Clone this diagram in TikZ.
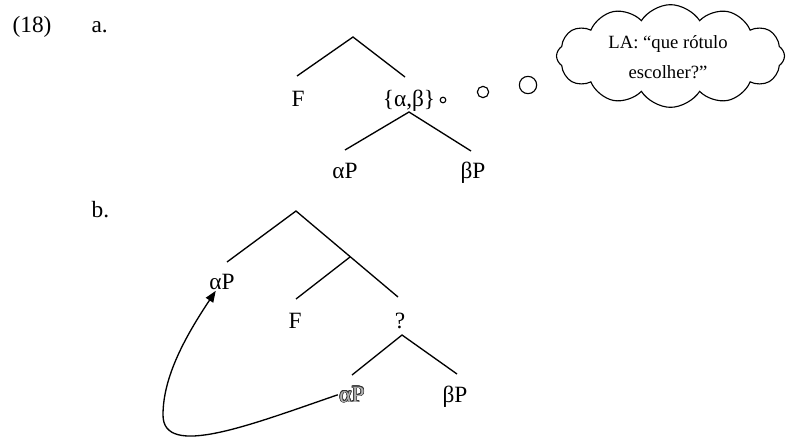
\documentclass[tikz,border=0pt]{standalone}
\usepackage{fontspec}
\setmainfont{Liberation Serif}
\usepackage{contour}
\usetikzlibrary{shapes.symbols,arrows.meta,calc}
\contourlength{0.45pt}
\contournumber{16}
\begin{document}
\begin{tikzpicture}[x=0.75pt,y=0.75pt,
  lbl/.style={anchor=base,inner sep=1pt,font=\fontsize{17.5}{20}\selectfont},
  branch/.style={line width=1pt},
  bubble/.style={draw,circle,inner sep=0pt,line width=0.85pt},
  movearrow/.style={line width=1pt,-{Triangle[length=8.5pt,width=6.5pt]}}]
\useasboundingbox (0,0) rectangle (787,437);

% labels
\node[lbl,anchor=base west] (lab18) at (11,405) {(18)};
\node[lbl,anchor=base west] (laba) at (90,405) {a.};
\node[lbl,anchor=base west] (labb) at (90,220) {b.};

% tree a
\coordinate (ra) at (353,400);
\coordinate (raL) at (297,361);
\coordinate (raR) at (405,360);
\coordinate (sa) at (409,325);
\coordinate (saL) at (345,287);
\coordinate (saR) at (471,286);
\node[lbl] (Fa) at (298,331) {F};
\node[lbl] (ab) at (409,331) {\{α,β\}};
\node[lbl] (aPa) at (345,259) {αP};
\node[lbl] (bPa) at (473,259) {βP};
\draw[branch] (raL) -- (ra) -- (raR);
\draw[branch] (saL) -- (sa) -- (saR);

% thought bubbles
\node[bubble,minimum size=4.2pt] (c1) at (443,337) {};
\node[bubble,minimum size=8.5pt] (c2) at (483,345) {};
\node[bubble,minimum size=13pt] (c3) at (528,352) {};
\node[cloud,draw,line width=0.85pt,cloud puffs=12,cloud puff arc=115,
      cloud ignores aspect,minimum width=171pt,minimum height=77pt,inner sep=0pt]
      (cloud) at (670.5,381) {};
\node[align=center,font=\fontsize{14}{22.5}\selectfont,inner sep=0pt]
      (thought) at (668,380) {LA: “que rótulo\\escolher?”};

% tree b
\coordinate (rb) at (296,226);
\coordinate (rbL) at (227,175);
\coordinate (rbR) at (398,140);
\coordinate (mb) at (350,180);
\coordinate (mbL) at (296,138);
\coordinate (qb) at (402,102);
\coordinate (qbL) at (352,62);
\coordinate (qbR) at (457,63);
\node[lbl] (aPb) at (222,148) {αP};
\node[lbl] (Fb) at (295,109) {F};
\node[lbl] (qlab) at (400,109) {?};
\node[lbl] (aPc) at (352,35) {\contour{black!80}{\textcolor{black!30}{αP}}};
\node[lbl] (bPc) at (455,35) {βP};
\draw[branch] (rbL) -- (rb) -- (rbR);
\draw[branch] (mb) -- (mbL);
\draw[branch] (qbL) -- (qb) -- (qbR);

% movement arrow
\coordinate (turn) at (163,22);
\draw[movearrow] (aPc.west) .. controls (250,12) and (163,-22) .. (turn)
  .. controls (163,60) and (185,100) .. ($(aPb.south west)!0.28!(aPb.south east)$);
\end{tikzpicture}
\end{document}
